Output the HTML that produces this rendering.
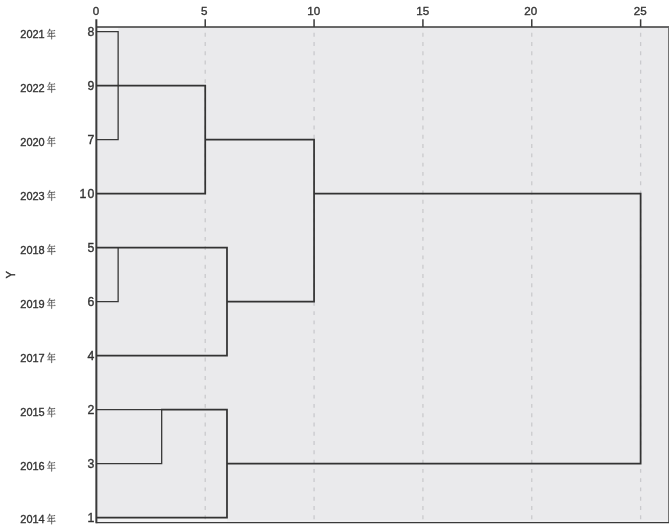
<!DOCTYPE html>
<html><head><meta charset="utf-8"><title>Dendrogram</title>
<style>html,body{margin:0;padding:0;background:#fff;}svg{display:block;will-change:transform;}text{font-family:"Liberation Sans",sans-serif;fill:#333;stroke:#333;stroke-width:0.35px;}</style></head><body>
<svg width="669" height="525" viewBox="0 0 669 525">
<defs><path id="n" d="M294 854C233 689 132 534 37 443L49 431C132 486 211 565 278 662H507V476H298L218 509V215H43L51 185H507V-77H518C553 -77 575 -61 575 -56V185H932C946 185 956 190 959 201C923 234 864 278 864 278L812 215H575V446H861C876 446 886 451 888 462C854 493 800 535 800 535L753 476H575V662H893C907 662 916 667 919 678C883 712 826 754 826 754L775 692H298C319 725 339 760 357 796C379 794 391 802 396 813ZM507 215H286V446H507Z"/></defs>
<rect width="669" height="525" fill="#fff"/>
<rect x="96.35" y="26.9" width="572.25" height="495.7" fill="#eaeaec"/>
<rect x="97.3" y="27.6" width="20.84" height="3.3" fill="#f5f5f6"/>
<rect x="97.3" y="518.3" width="129.69" height="3.6" fill="#f3f3f4"/>
<rect x="226.99" y="520.2" width="441.61" height="1.8" fill="#efeff0"/>
<line x1="205.22" y1="26.9" x2="205.22" y2="522.6" stroke="#cacacd" stroke-width="1.3" stroke-dasharray="3.9 5.38" stroke-dashoffset="-5.85"/>
<line x1="314.07" y1="26.9" x2="314.07" y2="522.6" stroke="#cacacd" stroke-width="1.3" stroke-dasharray="3.9 5.38" stroke-dashoffset="-5.85"/>
<line x1="422.92" y1="26.9" x2="422.92" y2="522.6" stroke="#cacacd" stroke-width="1.3" stroke-dasharray="3.9 5.38" stroke-dashoffset="-5.85"/>
<line x1="531.77" y1="26.9" x2="531.77" y2="522.6" stroke="#cacacd" stroke-width="1.3" stroke-dasharray="3.9 5.38" stroke-dashoffset="-5.85"/>
<line x1="640.62" y1="26.9" x2="640.62" y2="522.6" stroke="#cacacd" stroke-width="1.3" stroke-dasharray="3.9 5.38" stroke-dashoffset="-5.85"/>
<g stroke="#3a3a3a" fill="none">
<line x1="96.35" y1="26.9" x2="669" y2="26.9" stroke-width="1.5"/>
<line x1="668.6" y1="26.9" x2="668.6" y2="522.6" stroke-width="1" stroke="#666"/>
<line x1="96.35" y1="522.6" x2="669" y2="522.6" stroke-width="1.4"/>
<line x1="96.35" y1="19.3" x2="96.35" y2="523.3" stroke-width="2"/>
<line x1="205.22" y1="19.3" x2="205.22" y2="26.9" stroke-width="1.5"/>
<line x1="314.07" y1="19.3" x2="314.07" y2="26.9" stroke-width="1.5"/>
<line x1="422.92" y1="19.3" x2="422.92" y2="26.9" stroke-width="1.5"/>
<line x1="531.77" y1="19.3" x2="531.77" y2="26.9" stroke-width="1.5"/>
<line x1="640.62" y1="19.3" x2="640.62" y2="26.9" stroke-width="1.5"/>
</g>
<g stroke="#383838" stroke-width="1.3" fill="none" stroke-linejoin="miter">
<polyline points="96.37,31.70 118.14,31.70 118.14,139.66 96.37,139.66"/>
<polyline points="118.14,247.62 118.14,301.60 96.37,301.60"/>
<polyline points="96.37,409.56 161.68,409.56 161.68,463.54 96.37,463.54"/>
</g>
<g stroke="#333" stroke-width="1.75" fill="none" stroke-linejoin="miter">
<polyline points="96.37,85.68 205.22,85.68 205.22,193.64 96.37,193.64"/>
<polyline points="205.22,139.66 314.07,139.66 314.07,301.60 226.99,301.60"/>
<polyline points="96.37,247.62 226.99,247.62 226.99,355.58 96.37,355.58"/>
<polyline points="314.07,193.64 640.62,193.64 640.62,463.54 226.99,463.54"/>
<polyline points="161.08,409.56 226.99,409.56 226.99,517.52 96.37,517.52"/>
</g>
<text x="96.07" y="15" font-size="11.6" text-anchor="middle">0</text>
<text x="204.32" y="15" font-size="11.6" text-anchor="middle">5</text>
<text x="313.67" y="15" font-size="11.6" text-anchor="middle">10</text>
<text x="422.72" y="15" font-size="11.6" text-anchor="middle">15</text>
<text x="530.67" y="15" font-size="11.6" text-anchor="middle">20</text>
<text x="640.22" y="15" font-size="11.6" text-anchor="middle">25</text>
<text x="94.3" y="36.30" font-size="12.3" text-anchor="end">8</text>
<text transform="translate(20.3 38.30) scale(0.955 1)" font-size="11.5" stroke-width="0.45">2021</text>
<use href="#n" transform="translate(46.8 38.50) scale(0.0091 -0.0113)" fill="#444" stroke="#444" stroke-width="20"/>
<text x="94.3" y="90.28" font-size="12.3" text-anchor="end">9</text>
<text transform="translate(20.3 91.60) scale(0.955 1)" font-size="11.5" stroke-width="0.45">2022</text>
<use href="#n" transform="translate(46.8 91.80) scale(0.0091 -0.0113)" fill="#444" stroke="#444" stroke-width="20"/>
<text x="94.3" y="144.26" font-size="12.3" text-anchor="end">7</text>
<text transform="translate(20.3 145.70) scale(0.955 1)" font-size="11.5" stroke-width="0.45">2020</text>
<use href="#n" transform="translate(46.8 145.90) scale(0.0091 -0.0113)" fill="#444" stroke="#444" stroke-width="20"/>
<text x="94.3" y="198.24" font-size="12.3" text-anchor="end">0</text>
<text x="86.4" y="198.24" font-size="12.3" text-anchor="end">1</text>
<text transform="translate(20.3 199.70) scale(0.955 1)" font-size="11.5" stroke-width="0.45">2023</text>
<use href="#n" transform="translate(46.8 199.90) scale(0.0091 -0.0113)" fill="#444" stroke="#444" stroke-width="20"/>
<text x="94.3" y="252.22" font-size="12.3" text-anchor="end">5</text>
<text transform="translate(20.3 253.80) scale(0.955 1)" font-size="11.5" stroke-width="0.45">2018</text>
<use href="#n" transform="translate(46.8 254.00) scale(0.0091 -0.0113)" fill="#444" stroke="#444" stroke-width="20"/>
<text x="94.3" y="306.20" font-size="12.3" text-anchor="end">6</text>
<text transform="translate(20.3 307.70) scale(0.955 1)" font-size="11.5" stroke-width="0.45">2019</text>
<use href="#n" transform="translate(46.8 307.90) scale(0.0091 -0.0113)" fill="#444" stroke="#444" stroke-width="20"/>
<text x="94.3" y="360.18" font-size="12.3" text-anchor="end">4</text>
<text transform="translate(20.3 362.00) scale(0.955 1)" font-size="11.5" stroke-width="0.45">2017</text>
<use href="#n" transform="translate(46.8 362.20) scale(0.0091 -0.0113)" fill="#444" stroke="#444" stroke-width="20"/>
<text x="94.3" y="414.16" font-size="12.3" text-anchor="end">2</text>
<text transform="translate(20.3 416.20) scale(0.955 1)" font-size="11.5" stroke-width="0.45">2015</text>
<use href="#n" transform="translate(46.8 416.40) scale(0.0091 -0.0113)" fill="#444" stroke="#444" stroke-width="20"/>
<text x="94.3" y="468.14" font-size="12.3" text-anchor="end">3</text>
<text transform="translate(20.3 470.40) scale(0.955 1)" font-size="11.5" stroke-width="0.45">2016</text>
<use href="#n" transform="translate(46.8 470.60) scale(0.0091 -0.0113)" fill="#444" stroke="#444" stroke-width="20"/>
<text x="94.3" y="522.12" font-size="12.3" text-anchor="end">1</text>
<text transform="translate(20.3 523.30) scale(0.955 1)" font-size="11.5" stroke-width="0.45">2014</text>
<use href="#n" transform="translate(46.8 523.50) scale(0.0091 -0.0113)" fill="#444" stroke="#444" stroke-width="20"/>
<text transform="translate(15.3 274.9) rotate(-90) scale(0.93 1.02)" font-size="12" text-anchor="middle">Y</text>
</svg></body></html>
